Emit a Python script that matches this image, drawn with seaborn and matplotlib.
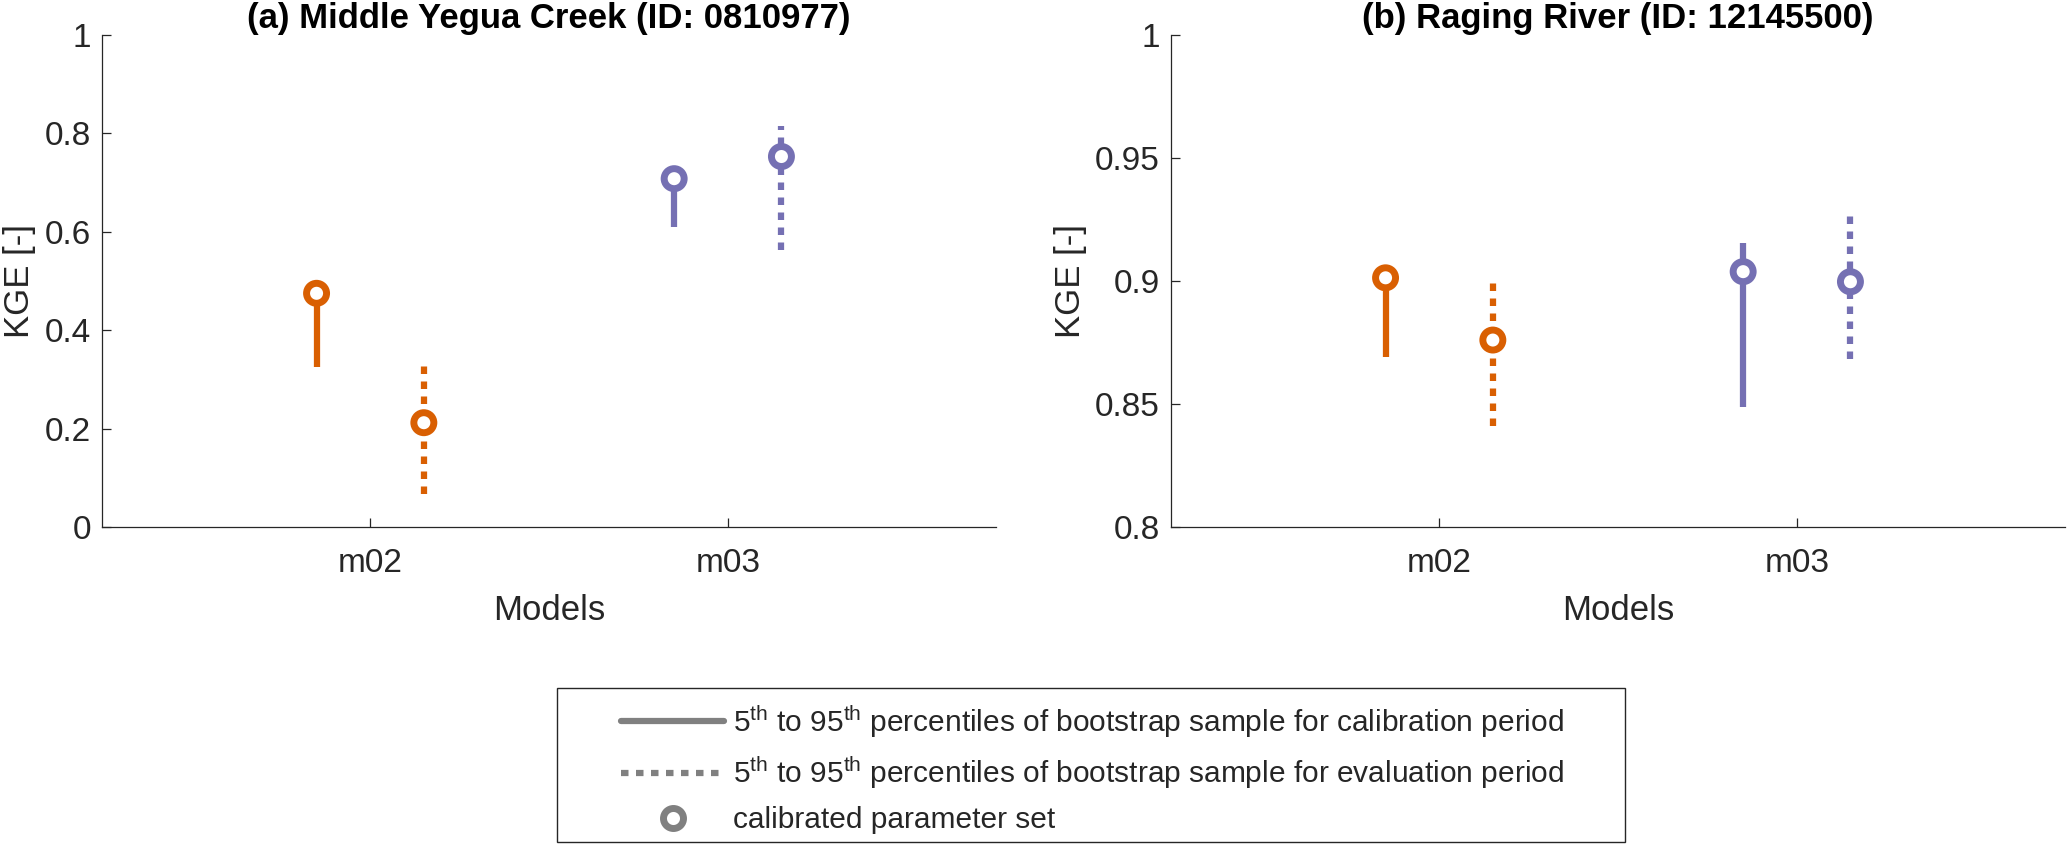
import numpy as np
import pandas as pd
import seaborn as sns
import matplotlib.pyplot as plt
from matplotlib.lines import Line2D
from matplotlib.patches import Rectangle
from matplotlib.ticker import FormatStrFormatter

basins = ['(a) Middle Yegua Creek (ID: 0810977)', '(b) Raging River (ID: 12145500)']
models = ['m02', 'm03']
periods = ['calibration', 'evaluation']

# values per basin in order: m02 cal, m02 eval, m03 cal, m03 eval
kge_best_a = [0.475, 0.212, 0.708, 0.753]
kge_p05_a = [0.325, 0.067, 0.610, 0.563]
kge_p95_a = [0.478, 0.335, 0.710, 0.815]

kge_best_b = [0.9013, 0.876, 0.9038, 0.8997]
kge_p05_b = [0.8692, 0.841, 0.8489, 0.8682]
kge_p95_b = [0.9015, 0.8997, 0.9153, 0.9272]

ylims = [(0, 1), (0.8, 1)]
yticks = [[0, 0.2, 0.4, 0.6, 0.8, 1], [0.8, 0.85, 0.9, 0.95, 1]]

rows = []
for basin, best, lo, hi in [(basins[0], kge_best_a, kge_p05_a, kge_p95_a),
                            (basins[1], kge_best_b, kge_p05_b, kge_p95_b)]:
    k = 0
    for m in models:
        for p in periods:
            rows.append(dict(basin=basin, model=m, period=p,
                             best=best[k], p05=lo[k], p95=hi[k]))
            k += 1
df = pd.DataFrame(rows)
df['x'] = df['model'].map({m: i + 1 for i, m in enumerate(models)}) + \
    df['period'].map({'calibration': -0.15, 'evaluation': 0.15})

palette = {'m02': '#D95F02', 'm03': '#7570B3'}
styles = {'calibration': '-', 'evaluation': (0, (1.2, 1.2))}

sns.set_style('ticks')
plt.rcParams['font.family'] = ['Liberation Sans', 'DejaVu Sans']
plt.rcParams['mathtext.fontset'] = 'custom'
plt.rcParams['mathtext.rm'] = 'Liberation Sans'
plt.rcParams['mathtext.it'] = 'Liberation Sans:italic'

W, H = 2067, 844
fig = plt.figure(figsize=(W / 100, H / 100), dpi=100)
dark = '#262626'
lw = 4.5

for j, basin in enumerate(basins):
    left = [102, 1171][j]
    ax = fig.add_axes([left / W, (H - 527) / H, 894 / W, 492 / H])
    sub = df[df['basin'] == basin]
    for _, r in sub.iterrows():
        ax.vlines(r['x'], r['p05'], r['p95'], color=palette[r['model']],
                  linestyle=styles[r['period']], linewidth=lw, zorder=2)
    sns.scatterplot(data=sub, x='x', y='best', hue='model', palette=palette,
                    s=207, marker='o', linewidth=5, legend=False, ax=ax, zorder=3)
    coll = ax.collections[-1]
    coll.set_edgecolors(coll.get_facecolors())
    coll.set_facecolor('white')

    ax.set_xlim(0.25, 2.75)
    ax.set_ylim(*ylims[j])
    ax.set_xticks([1, 2])
    ax.set_xticklabels(models)
    ax.set_yticks(yticks[j])
    ax.yaxis.set_major_formatter(FormatStrFormatter('%g'))
    ax.tick_params(direction='in', length=6.5, width=0.9, colors=dark,
                   labelsize=24)
    ax.tick_params(axis='x', pad=15)
    ax.tick_params(axis='y', pad=8)
    for s in ['top', 'right']:
        ax.spines[s].set_visible(False)
    for s in ['left', 'bottom']:
        ax.spines[s].set_color(dark)
        ax.spines[s].set_linewidth(0.9)
    ax.set_xlabel('Models', fontsize=25, color=dark, labelpad=11)
    ax.set_ylabel('KGE [-]', fontsize=25, color=dark, labelpad=6)
    ax.set_title(basin, fontsize=25, fontweight='bold', color='black', pad=2)

handles = [
    Line2D([], [], color='#808080', linewidth=lw, linestyle='-'),
    Line2D([], [], color='#808080', linewidth=lw, linestyle=(0, (1.2, 1.2))),
    Line2D([], [], color='#808080', linestyle='none', marker='o',
           markersize=14.4, markeredgewidth=5, markerfacecolor='white'),
]
labels = [
    r'5$^{\mathrm{th}}$ to 95$^{\mathrm{th}}$ percentiles of bootstrap sample for calibration period',
    r'5$^{\mathrm{th}}$ to 95$^{\mathrm{th}}$ percentiles of bootstrap sample for evaluation period',
    'calibrated parameter set',
]
fig.legend(handles, labels, loc='upper left',
           bbox_to_anchor=(621 / W, (H - 703) / H), frameon=False,
           fontsize=21.5, handlelength=3.45, handletextpad=0.3,
           borderpad=0, borderaxespad=0, labelspacing=0.5)
fig.add_artist(Rectangle((557 / W, (H - 842) / H), (1625 - 557) / W, (842 - 688) / H,
                         transform=fig.transFigure, fill=False,
                         edgecolor=dark, linewidth=1.0))

fig.savefig('out.png', dpi=100)
